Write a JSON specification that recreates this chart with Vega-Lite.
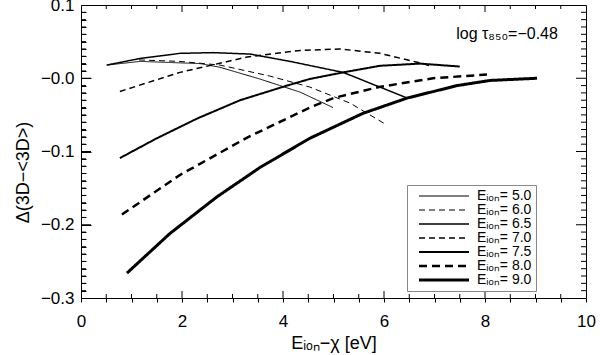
{
  "$schema": "https://vega.github.io/schema/vega-lite/v6.json",
  "width": 505,
  "height": 293,
  "autosize": "none",
  "padding": {"left": 81, "top": 5, "right": 14, "bottom": 57},
  "background": "white",
  "config": {
    "view": {"stroke": "black", "strokeWidth": 1, "fill": null},
    "font": "Liberation Sans",
    "axis": {"domain": false, "tickColor": "black", "labelColor": "black", "titleColor": "black", "grid": false, "labelFont": "Liberation Sans", "titleFont": "Liberation Sans", "titleFontWeight": "normal", "labelOverlap": false, "labelFlush": false}
  },
  "datasets": {
    "xMajor": [{"v": 2}, {"v": 4}, {"v": 6}, {"v": 8}],
    "xMinor": [{"v": 0.5}, {"v": 1}, {"v": 1.5}, {"v": 2.5}, {"v": 3}, {"v": 3.5}, {"v": 4.5}, {"v": 5}, {"v": 5.5}, {"v": 6.5}, {"v": 7}, {"v": 7.5}, {"v": 8.5}, {"v": 9}, {"v": 9.5}],
    "yMajor": [{"v": -0.2}, {"v": -0.1}, {"v": 0}],
    "yMinor": [{"v": -0.29}, {"v": -0.28}, {"v": -0.27}, {"v": -0.26}, {"v": -0.25}, {"v": -0.24}, {"v": -0.23}, {"v": -0.22}, {"v": -0.21}, {"v": -0.19}, {"v": -0.18}, {"v": -0.17}, {"v": -0.16}, {"v": -0.15}, {"v": -0.14}, {"v": -0.13}, {"v": -0.12}, {"v": -0.11}, {"v": -0.09}, {"v": -0.08}, {"v": -0.07}, {"v": -0.06}, {"v": -0.05}, {"v": -0.04}, {"v": -0.03}, {"v": -0.02}, {"v": -0.01}, {"v": 0.01}, {"v": 0.02}, {"v": 0.03}, {"v": 0.04}, {"v": 0.05}, {"v": 0.06}, {"v": 0.07}, {"v": 0.08}, {"v": 0.09}]
  },
  "resolve": {"axis": {"x": "independent", "y": "independent"}},
  "layer": [
    {
      "data": {"values": [
        {"E": "5.0", "x": 0.51, "y": 0.018}, {"E": "5.0", "x": 1.17, "y": 0.023}, {"E": "5.0", "x": 2.36, "y": 0.020}, {"E": "5.0", "x": 2.75, "y": 0.015}, {"E": "5.0", "x": 3.54, "y": -0.001}, {"E": "5.0", "x": 4.34, "y": -0.019}, {"E": "5.0", "x": 4.99, "y": -0.040},
        {"E": "6.0", "x": 1.15, "y": 0.025}, {"E": "6.0", "x": 1.96, "y": 0.023}, {"E": "6.0", "x": 2.75, "y": 0.018}, {"E": "6.0", "x": 3.74, "y": 0.003}, {"E": "6.0", "x": 4.53, "y": -0.012}, {"E": "6.0", "x": 5.33, "y": -0.034}, {"E": "6.0", "x": 6.06, "y": -0.064},
        {"E": "6.5", "x": 0.51, "y": 0.018}, {"E": "6.5", "x": 1.17, "y": 0.027}, {"E": "6.5", "x": 1.96, "y": 0.034}, {"E": "6.5", "x": 2.61, "y": 0.035}, {"E": "6.5", "x": 3.35, "y": 0.033}, {"E": "6.5", "x": 4.14, "y": 0.023}, {"E": "6.5", "x": 5.19, "y": 0.008}, {"E": "6.5", "x": 6.46, "y": -0.027},
        {"E": "7.0", "x": 0.77, "y": -0.018}, {"E": "7.0", "x": 1.96, "y": 0.008}, {"E": "7.0", "x": 3.29, "y": 0.029}, {"E": "7.0", "x": 4.34, "y": 0.038}, {"E": "7.0", "x": 5.13, "y": 0.040}, {"E": "7.0", "x": 5.92, "y": 0.034}, {"E": "7.0", "x": 6.77, "y": 0.020}, {"E": "7.0", "x": 6.95, "y": 0.016},
        {"E": "7.5", "x": 0.77, "y": -0.109}, {"E": "7.5", "x": 1.5, "y": -0.082}, {"E": "7.5", "x": 2.3, "y": -0.055}, {"E": "7.5", "x": 3.15, "y": -0.030}, {"E": "7.5", "x": 4.08, "y": -0.010}, {"E": "7.5", "x": 4.53, "y": -0.001}, {"E": "7.5", "x": 5.19, "y": 0.008}, {"E": "7.5", "x": 5.92, "y": 0.017}, {"E": "7.5", "x": 6.71, "y": 0.020}, {"E": "7.5", "x": 7.5, "y": 0.016},
        {"E": "8.0", "x": 0.81, "y": -0.186}, {"E": "8.0", "x": 1.96, "y": -0.132}, {"E": "8.0", "x": 3.29, "y": -0.081}, {"E": "8.0", "x": 4.53, "y": -0.040}, {"E": "8.0", "x": 5.0, "y": -0.027}, {"E": "8.0", "x": 5.9, "y": -0.012}, {"E": "8.0", "x": 6.97, "y": 0.0}, {"E": "8.0", "x": 8.04, "y": 0.005},
        {"E": "9.0", "x": 0.91, "y": -0.266}, {"E": "9.0", "x": 1.76, "y": -0.212}, {"E": "9.0", "x": 2.69, "y": -0.162}, {"E": "9.0", "x": 3.54, "y": -0.122}, {"E": "9.0", "x": 4.53, "y": -0.082}, {"E": "9.0", "x": 5.58, "y": -0.048}, {"E": "9.0", "x": 6.46, "y": -0.027}, {"E": "9.0", "x": 7.45, "y": -0.010}, {"E": "9.0", "x": 8.1, "y": -0.003}, {"E": "9.0", "x": 9.03, "y": 0.0}
      ]},
      "mark": {"type": "line", "color": "black", "strokeCap": "butt"},
      "encoding": {
        "x": {"field": "x", "type": "quantitative", "scale": {"domain": [0, 10], "nice": false, "zero": false},
          "axis": {"orient": "bottom", "zindex": 1, "values": [0,0.5,1,1.5,2,2.5,3,3.5,4,4.5,5,5.5,6,6.5,7,7.5,8,8.5,9,9.5,10],
            "labelExpr": "datum.value % 2 == 0 ? format(datum.value, 'd') : ''",
            "ticks": true, "tickSize": 4, "tickWidth": 1, "tickColor": "black",
            "labelPadding": 11, "labelFontSize": 17, "title": "Eᵢₒₙ−χ [eV]", "titleFontSize": 18, "titlePadding": 5}},
        "y": {"field": "y", "type": "quantitative", "scale": {"domain": [-0.3, 0.1], "nice": false, "zero": false},
          "axis": {"orient": "left", "zindex": 1, "offset": -10, "values": [-0.3,-0.29,-0.28,-0.27,-0.26,-0.25,-0.24,-0.23,-0.22,-0.21,-0.2,-0.19,-0.18,-0.17,-0.16,-0.15,-0.14,-0.13,-0.12,-0.11,-0.1,-0.09,-0.08,-0.07,-0.06,-0.05,-0.04,-0.03,-0.02,-0.01,0,0.01,0.02,0.03,0.04,0.05,0.06,0.07,0.08,0.09,0.1],
            "labelExpr": "abs(datum.value*10 - round(datum.value*10)) < 0.001 ? (datum.value > 0.05 ? '0.1' : (datum.value > -0.05 ? '−0.0' : '−' + format(abs(datum.value), '.1f'))) : ''",
            "ticks": true, "tickSize": 10, "tickWidth": 1, "tickColor": "black",
            "tickDash": {"condition": {"test": "abs(datum.value*10 - round(datum.value*10)) < 0.001", "value": [10, 0]}, "value": [0, 5, 5, 100]},
            "labelPadding": 7, "labelFontSize": 17, "title": "Δ(3D−<3D>)", "titleFontSize": 18, "titlePadding": 8, "titleY": 167}},
        "strokeDash": {"field": "E", "type": "ordinal",
          "scale": {"type": "ordinal", "domain": ["5.0","6.0","6.5","7.0","7.5","8.0","9.0"], "range": [[1,0],[6,4],[1,0],[6,4],[1,0],[8,5],[1,0]]},
          "legend": {"orient": "none", "legendX": 326, "legendY": 180, "title": null, "strokeColor": "#888", "padding": 4, "symbolType": "M-5,0H5", "symbolSize": 100, "symbolOffset": 26, "symbolStrokeColor": "black", "labelOffset": 26, "labelFontSize": 14, "rowPadding": 0, "labelExpr": "'Eᵢₒₙ= ' + datum.label"}},
        "strokeWidth": {"field": "E", "type": "ordinal",
          "scale": {"type": "ordinal", "domain": ["5.0","6.0","6.5","7.0","7.5","8.0","9.0"], "range": [1, 1, 1.5, 1.5, 2, 2.5, 3]},
          "legend": {"orient": "none", "legendX": 326, "legendY": 180, "title": null, "strokeColor": "#888", "padding": 4, "symbolType": "M-5,0H5", "symbolSize": 100, "symbolOffset": 26, "symbolStrokeColor": "black", "labelOffset": 26, "labelFontSize": 14, "rowPadding": 0, "labelExpr": "'Eᵢₒₙ= ' + datum.label"}}
      }
    },
    {
      "data": {"name": "xMajor"},
      "mark": {"type": "rule", "color": "black", "strokeWidth": 1},
      "encoding": {
        "x": {"field": "v", "type": "quantitative", "axis": null},
        "y": {"datum": -0.3, "type": "quantitative", "axis": null},
        "y2": {"datum": -0.2904}
      }
    },
    {
      "data": {"name": "xMajor"},
      "mark": {"type": "rule", "color": "black", "strokeWidth": 1},
      "encoding": {
        "x": {"field": "v", "type": "quantitative", "axis": null},
        "y": {"datum": 0.1, "type": "quantitative", "axis": null},
        "y2": {"datum": 0.0904}
      }
    },
    {
      "data": {"name": "xMinor"},
      "mark": {"type": "rule", "color": "black", "strokeWidth": 1},
      "encoding": {
        "x": {"field": "v", "type": "quantitative", "axis": null},
        "y": {"datum": -0.3, "type": "quantitative", "axis": null},
        "y2": {"datum": -0.2945}
      }
    },
    {
      "data": {"name": "xMinor"},
      "mark": {"type": "rule", "color": "black", "strokeWidth": 1},
      "encoding": {
        "x": {"field": "v", "type": "quantitative", "axis": null},
        "y": {"datum": 0.1, "type": "quantitative", "axis": null},
        "y2": {"datum": 0.0945}
      }
    },
    {
      "data": {"name": "yMajor"},
      "mark": {"type": "rule", "color": "black", "strokeWidth": 1},
      "encoding": {
        "y": {"field": "v", "type": "quantitative", "axis": null},
        "x": {"datum": 0, "type": "quantitative", "axis": null},
        "x2": {"datum": 0.198}
      }
    },
    {
      "data": {"name": "yMajor"},
      "mark": {"type": "rule", "color": "black", "strokeWidth": 1},
      "encoding": {
        "y": {"field": "v", "type": "quantitative", "axis": null},
        "x": {"datum": 10, "type": "quantitative", "axis": null},
        "x2": {"datum": 9.802}
      }
    },
    {
      "data": {"name": "yMinor"},
      "mark": {"type": "rule", "color": "black", "strokeWidth": 1},
      "encoding": {
        "y": {"field": "v", "type": "quantitative", "axis": null},
        "x": {"datum": 0, "type": "quantitative", "axis": null},
        "x2": {"datum": 0.099}
      }
    },
    {
      "data": {"name": "yMinor"},
      "mark": {"type": "rule", "color": "black", "strokeWidth": 1},
      "encoding": {
        "y": {"field": "v", "type": "quantitative", "axis": null},
        "x": {"datum": 10, "type": "quantitative", "axis": null},
        "x2": {"datum": 9.901}
      }
    },
    {
      "data": {"values": [{}]},
      "mark": {"type": "text", "text": "log τ₈₅₀=−0.48", "align": "left", "baseline": "middle", "fontSize": 16, "font": "Liberation Sans"},
      "encoding": {
        "x": {"datum": 7.43, "type": "quantitative", "axis": null},
        "y": {"datum": 0.061, "type": "quantitative", "axis": null}
      }
    }
  ]
}
